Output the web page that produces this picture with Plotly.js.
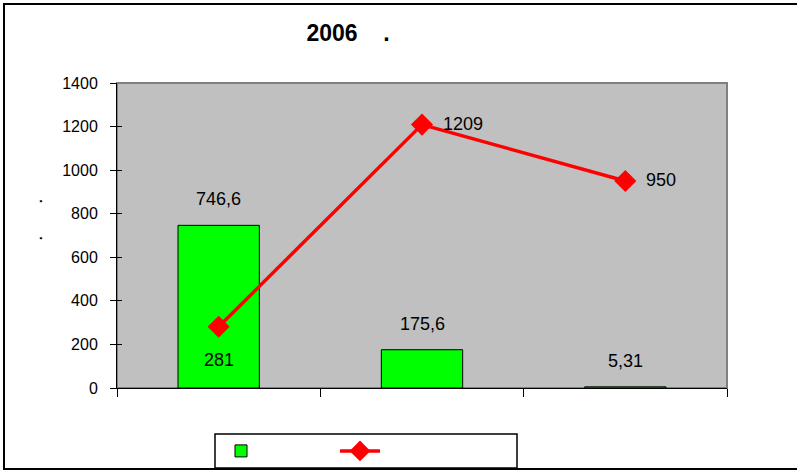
<!DOCTYPE html>
<html>
<head>
<meta charset="utf-8">
<script src="https://cdn.plot.ly/plotly-3.0.1.min.js"></script>
<style>html,body{margin:0;padding:0;background:#fff;}#chart{width:797px;height:471px;}</style>
</head>
<body>
<div id="chart"></div>
<script>
// ---- data ----
const categories = [0, 1, 2];            // category names did not render in the reference
const barValues = [746.6, 175.6, 5.31];
const lineValues = [281, 1209, 950];
const barLabels = ["746,6", "175,6", "5,31"];
const lineLabels = ["281", "1209", "950"];
const titleText = "2006\u00a0\u00a0\u00a0\u00a0.";
const yTitleText = ".";
const yTicks = [0, 200, 400, 600, 800, 1000, 1200, 1400];

// ---- geometry helpers (pixel -> paper) ----
const W = 797, H = 471, L = 117, R = 727, T = 83, B = 388;
const px = x => (x - L) / (R - L);
const py = y => (B - y) / (B - T);
const FONT = 'Liberation Sans, Arial, sans-serif';

const traces = [
  {
    type: 'bar', x: categories, y: barValues, name: ' ', width: 0.4,
    marker: {color: '#00FF00', line: {color: '#000000', width: 1}},
    hoverinfo: 'skip'
  },
  {
    type: 'scatter', mode: 'lines+markers', x: categories, y: lineValues, name: ' ',
    line: {color: '#FF0000', width: 3.5},
    marker: {symbol: 'diamond', size: 17, color: '#FF0000'},
    hoverinfo: 'skip'
  },
  { // overlay axis only used for inside half of crossing ticks
    type: 'scatter', x: [categories[0]], y: [0], yaxis: 'y2', mode: 'markers',
    marker: {opacity: 0}, showlegend: false, hoverinfo: 'skip'
  }
];

const annotations = [];
categories.forEach((c, i) => {
  annotations.push({
    x: c, y: barValues[i], xref: 'x', yref: 'y', text: barLabels[i], showarrow: false,
    yanchor: 'middle', yshift: 26, font: {family: FONT, size: 18, color: '#000'}
  });
  const below = i === 0;
  annotations.push({
    x: c, y: lineValues[i], xref: 'x', yref: 'y', text: lineLabels[i], showarrow: false,
    xanchor: below ? 'center' : 'left', yanchor: 'middle',
    xshift: below ? 0 : 19, yshift: below ? -33 : 1,
    font: {family: FONT, size: 18, color: '#000'}
  });
});
[201, 238].forEach(yy => {
  annotations.push({
    xref: 'paper', yref: 'paper', x: px(22), y: py(yy), text: yTitleText, showarrow: false,
    textangle: -90, font: {family: FONT, size: 20, color: '#000'}
  });
});

const layout = {
  width: W, height: H,
  margin: {l: L, r: W - R, t: T, b: H - B, pad: 0, autoexpand: false},
  paper_bgcolor: '#FFFFFF', plot_bgcolor: '#C0C0C0',
  showlegend: true,
  font: {family: FONT, size: 16, color: '#000'},
  title: {
    text: titleText, font: {family: FONT, size: 23, color: '#000', weight: 'bold'},
    xref: 'container', x: 348 / W, xanchor: 'center', yref: 'container', y: 1 - 33 / H, yanchor: 'middle'
  },
  xaxis: {
    range: [-0.5, 2.5], tickvals: [-0.5, 0.5, 1.5, 2.5], showticklabels: false,
    ticks: 'outside', ticklen: 8, tickwidth: 1, tickcolor: '#000',
    showline: true, linecolor: '#000', linewidth: 1, showgrid: false, zeroline: false, fixedrange: true
  },
  yaxis: {
    range: [0, 1400], tickvals: yTicks, ticktext: yTicks.map(String),
    ticks: 'outside', ticklen: 6, tickwidth: 1, tickcolor: '#000', ticklabelstandoff: 9,
    showline: true, linecolor: '#000', linewidth: 1, showgrid: false, zeroline: false, fixedrange: true,
    tickfont: {size: 16}
  },
  yaxis2: {
    overlaying: 'y', side: 'left', range: [0, 1400], tickvals: yTicks, showticklabels: false,
    ticks: 'inside', ticklen: 5, tickwidth: 1, tickcolor: '#000',
    showline: false, showgrid: false, zeroline: false, fixedrange: true
  },
  legend: {
    orientation: 'h', xref: 'paper', yref: 'paper', x: px(216), y: py(434), xanchor: 'left', yanchor: 'top',
    bgcolor: 'rgba(0,0,0,0)', borderwidth: 0, entrywidth: 64, entrywidthmode: 'pixels',
    font: {size: 16}, itemwidth: 40, traceorder: 'normal'
  },
  shapes: [
    {type: 'rect', xref: 'paper', yref: 'paper', x0: 0, x1: 1, y0: 0, y1: 1,
     line: {color: '#808080', width: 2}, fillcolor: 'rgba(0,0,0,0)', layer: 'below'},
    {type: 'rect', xref: 'paper', yref: 'paper', x0: px(4), x1: px(810), y0: py(469), y1: py(4),
     line: {color: '#000', width: 2}, fillcolor: 'rgba(0,0,0,0)'},
    {type: 'rect', xref: 'paper', yref: 'paper', x0: px(215), x1: px(517), y0: py(468), y1: py(434),
     line: {color: '#000', width: 1.5}, fillcolor: '#FFFFFF', layer: 'below'}
  ],
  annotations: annotations
};

Plotly.newPlot('chart', traces, layout, {staticPlot: true, displayModeBar: false});
</script>
</body>
</html>
